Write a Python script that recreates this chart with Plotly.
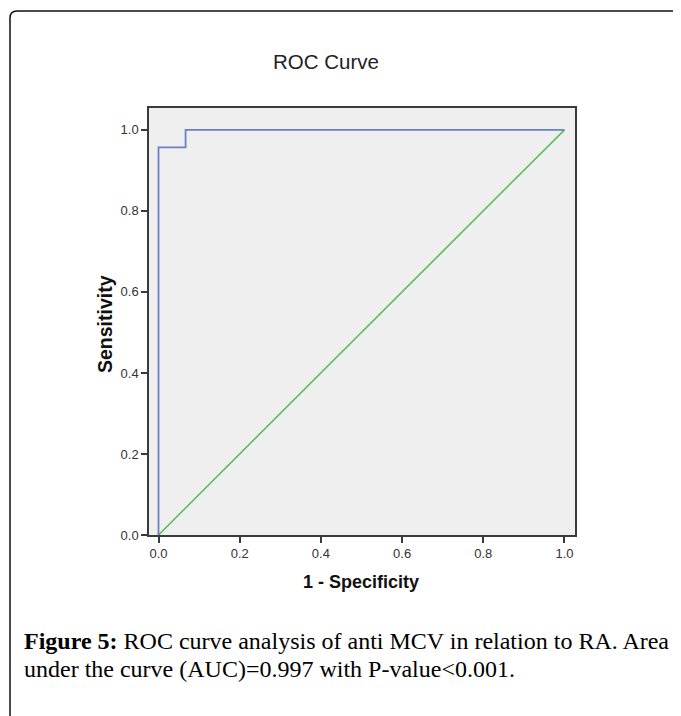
import plotly.graph_objects as go

# ROC data (1 - specificity, sensitivity)
roc_fpr = [0.0, 0.0, 0.0667, 0.0667, 1.0]
roc_tpr = [0.0, 0.957, 0.957, 1.0, 1.0]
ref_fpr = [0.0, 1.0]
ref_tpr = [0.0, 1.0]
tick_vals = [0.0, 0.2, 0.4, 0.6, 0.8, 1.0]
tick_text = ["0.0", "0.2", "0.4", "0.6", "0.8", "1.0"]

OFF = 8  # page body margin
W, H = 681 - OFF, 716 - OFF
L, R, T, B = 149 - OFF, 575 - OFF, 108 - OFF, 535 - OFF

def px(x):
    return (x - OFF - L) / (R - L)

def py(y):
    return (B - (y - OFF)) / (B - T)

fig = go.Figure()
fig.add_trace(go.Scatter(x=ref_fpr, y=ref_tpr, mode="lines",
                         line=dict(color="rgb(92,190,92)", width=1.6),
                         showlegend=False, hoverinfo="skip"))
fig.add_trace(go.Scatter(x=roc_fpr, y=roc_tpr, mode="lines",
                         line=dict(color="rgb(108,128,200)", width=1.8),
                         showlegend=False, hoverinfo="skip"))

axis_common = dict(showgrid=False, zeroline=False, showline=True, mirror=True,
                   linecolor="#3a3a3a", linewidth=1.5,
                   ticks="outside", ticklen=6, tickwidth=1.5, tickcolor="#3a3a3a",
                   tickvals=tick_vals, ticktext=tick_text,
                   tickfont=dict(family="Liberation Sans, Arial", size=13, color="#333"))

fig.update_xaxes(range=[-0.0234, 1.0259], **axis_common)
fig.update_yaxes(range=[0, 1.054], **axis_common)

# outer rounded frame
x0, y0, r = 10, 11, 7
path = (f"M {px(x0)} {py(716 + 5)} L {px(x0)} {py(y0 + r)} "
        f"Q {px(x0)} {py(y0)} {px(x0 + r)} {py(y0)} L {px(690)} {py(y0)}")
shapes = [dict(type="path", xref="paper", yref="paper", path=path,
               line=dict(color="#111", width=1.5))]

annotations = [
    dict(text="ROC Curve", x=px(326), y=py(61), xref="paper", yref="paper",
         showarrow=False, xanchor="center", yanchor="middle",
         font=dict(family="Liberation Sans, Arial", size=20.5, color="#222")),
    dict(text="<b>1 - Specificity</b>", x=px(361), y=py(582), xref="paper", yref="paper",
         showarrow=False, xanchor="center", yanchor="middle",
         font=dict(family="Liberation Sans, Arial", size=18, color="#111")),
    dict(text="<b>Sensitivity</b>", x=px(105), y=py(324), xref="paper", yref="paper",
         showarrow=False, xanchor="center", yanchor="middle", textangle=-90,
         font=dict(family="Liberation Sans, Arial", size=19.5, color="#111")),
    dict(text="<b>Figure 5:</b> ROC curve analysis of anti MCV in relation to RA. Area",
         x=px(22), y=py(641), xref="paper", yref="paper",
         showarrow=False, xanchor="left", yanchor="middle", align="left",
         font=dict(family="Liberation Serif, Times New Roman, serif", size=24, color="#000")),
    dict(text="under the curve (AUC)=0.997 with P-value<0.001.",
         x=px(22), y=py(669), xref="paper", yref="paper",
         showarrow=False, xanchor="left", yanchor="middle", align="left",
         font=dict(family="Liberation Serif, Times New Roman, serif", size=24, color="#000")),
]

fig.update_layout(width=W, height=H,
                  margin=dict(l=L, r=W - R, t=T, b=H - B),
                  paper_bgcolor="white", plot_bgcolor="#efefef",
                  shapes=shapes, annotations=annotations, showlegend=False)

fig.write_html("out.html")
